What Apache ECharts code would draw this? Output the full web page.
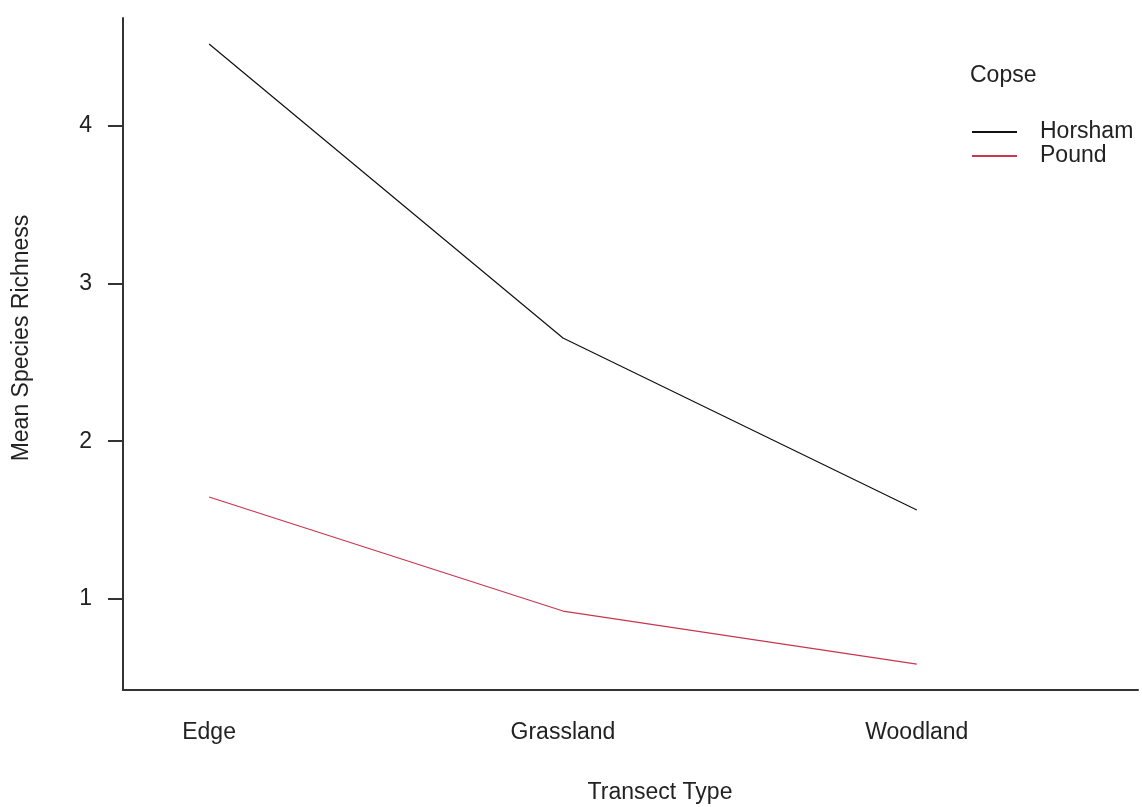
<!DOCTYPE html>
<html>
<head>
<meta charset="utf-8">
<script src="https://cdn.jsdelivr.net/npm/echarts@6/dist/echarts.min.js"></script>
<style>
html,body{margin:0;padding:0;background:#fff;}
#chart{width:1142px;height:807px;}
</style>
</head>
<body>
<div id="chart"></div>
<script>
var categories = ['Edge', 'Grassland', 'Woodland'];
var horsham = [4.515, 2.653, 1.564];
var pound = [1.646, 0.924, 0.588];
var yTicks = [1, 2, 3, 4];
var seriesNames = ['Horsham', 'Pound'];
var legendTitle = 'Copse';
var xTitle = 'Transect Type';
var yTitle = 'Mean Species Richness';

var FONT = '"Liberation Sans", Arial, sans-serif';
var TXT = '#222';

function toPoints(arr) {
  return arr.map(function (v, i) { return [i + 1, v]; });
}

var chart = echarts.init(document.getElementById('chart'), null, {renderer: 'canvas'});
chart.setOption({
  backgroundColor: '#ffffff',
  animation: false,
  title: {
    text: legendTitle,
    left: 970,
    top: 64,
    padding: 0,
    textStyle: {fontFamily: FONT, fontSize: 23, fontWeight: 'normal', color: TXT}
  },
  legend: {
    orient: 'vertical',
    left: 972,
    top: 120,
    padding: 0,
    itemGap: 0,
    itemWidth: 45,
    itemHeight: 2,
    icon: 'rect',
    data: seriesNames,
    textStyle: {fontFamily: FONT, fontSize: 23, color: TXT, lineHeight: 24, padding: [0, 0, 0, 18]}
  },
  grid: {left: 123, right: 4, top: 18, bottom: 117, containLabel: false},
  xAxis: {
    type: 'value',
    min: 0.7567,
    max: 3.625,
    splitLine: {show: false},
    axisLine: {show: true, lineStyle: {color: '#333', width: 2}},
    axisTick: {show: false},
    axisLabel: {
      customValues: [1, 2, 3],
      margin: 31,
      fontFamily: FONT,
      fontSize: 23,
      color: TXT,
      formatter: function (v) { return categories[Math.round(v) - 1] || ''; }
    }
  },
  yAxis: {
    type: 'value',
    min: 0.424,
    max: 4.68,
    splitLine: {show: false},
    axisLine: {show: true, lineStyle: {color: '#333', width: 2}},
    axisTick: {show: true, length: 15, customValues: yTicks, lineStyle: {color: '#333', width: 2}},
    axisLabel: {
      customValues: yTicks,
      margin: 31,
      fontFamily: FONT,
      fontSize: 23,
      color: TXT
    }
  },
  graphic: [
    {
      type: 'text',
      x: 660, y: 793,
      style: {text: xTitle, font: '23px ' + FONT, fill: TXT, textAlign: 'center', textVerticalAlign: 'middle'}
    },
    {
      type: 'text',
      x: 22, y: 338,
      rotation: Math.PI / 2,
      style: {text: yTitle, font: '23px ' + FONT, fill: TXT, textAlign: 'center', textVerticalAlign: 'middle'}
    }
  ],
  series: [
    {
      name: seriesNames[0],
      type: 'line',
      data: toPoints(horsham),
      symbol: 'none',
      color: '#111111',
      lineStyle: {color: '#111111', width: 1.2}
    },
    {
      name: seriesNames[1],
      type: 'line',
      data: toPoints(pound),
      symbol: 'none',
      color: '#C8364F',
      lineStyle: {color: '#C8364F', width: 1.2}
    }
  ]
});
</script>
</body>
</html>
